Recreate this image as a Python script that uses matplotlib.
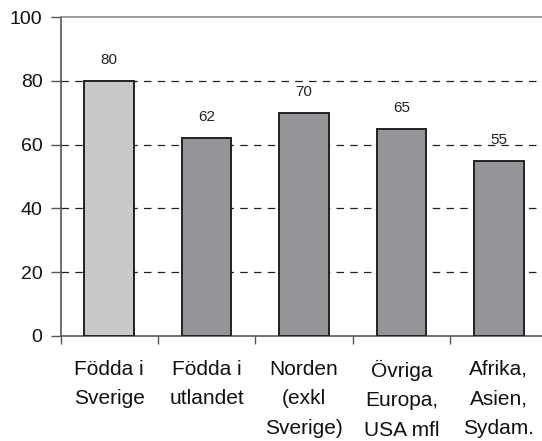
import matplotlib
matplotlib.use("Agg")
import matplotlib.pyplot as plt
import numpy as np

# Data
categories = ["Födda i\nSverige", "Födda i\nutlandet", "Norden\n(exkl\nSverige)",
              "Övriga\nEuropa,\nUSA mfl", "Afrika,\nAsien,\nSydam."]
values = [80, 62, 70, 65, 55]
bar_colors = ["#c8c9cb", "#949598", "#949598", "#949598", "#949598"]
yticks = [0, 20, 40, 60, 80, 100]

plt.rcParams["font.family"] = ["Liberation Sans", "DejaVu Sans"]

W, H = 542, 441
fig = plt.figure(figsize=(W / 100, H / 100), dpi=100)
# plot area runs past the right edge of the picture (cropped original)
left, right, top, bottom = 60.5, 547.5, 17, 336
ax = fig.add_axes([left / W, 1 - bottom / H, (right - left) / W, (bottom - top) / H])

x = np.arange(len(values))
ax.bar(x, values, width=0.51, color=bar_colors, edgecolor="#222222", linewidth=1.4, zorder=3)
for xi, v in zip(x, values):
    ax.text(xi, v + 6.5, str(v), ha="center", va="center", fontsize=11, color="#222222", zorder=4)

ax.set_xlim(-0.5, len(values) - 0.5)
ax.set_ylim(0, 100)
ax.set_yticks(yticks)
ax.set_xticks(np.arange(len(values) + 1) - 0.5, minor=True)
ax.set_xticks(x)
ax.set_xticklabels(categories, fontsize=15, linespacing=1.7, color="#111111")
ax.tick_params(axis="x", which="major", length=0, pad=17)
ax.tick_params(axis="x", which="minor", length=6, width=1, color="#555555", direction="out")
ax.tick_params(axis="y", length=7, width=1, color="#555555", pad=6, labelsize=14, labelcolor="#111111")

for yv in yticks[1:-1]:
    ax.axhline(yv, color="#222222", lw=0.9, ls=(0, (6, 5)), zorder=1)

ax.spines["right"].set_visible(False)
ax.spines["top"].set_color("#8a8a8a")
ax.spines["top"].set_linewidth(1.2)
ax.spines["left"].set_color("#555555")
ax.spines["bottom"].set_color("#555555")
ax.spines["left"].set_linewidth(1.2)
ax.spines["bottom"].set_linewidth(1.2)

fig.savefig("out.png", dpi=100, facecolor="white")
